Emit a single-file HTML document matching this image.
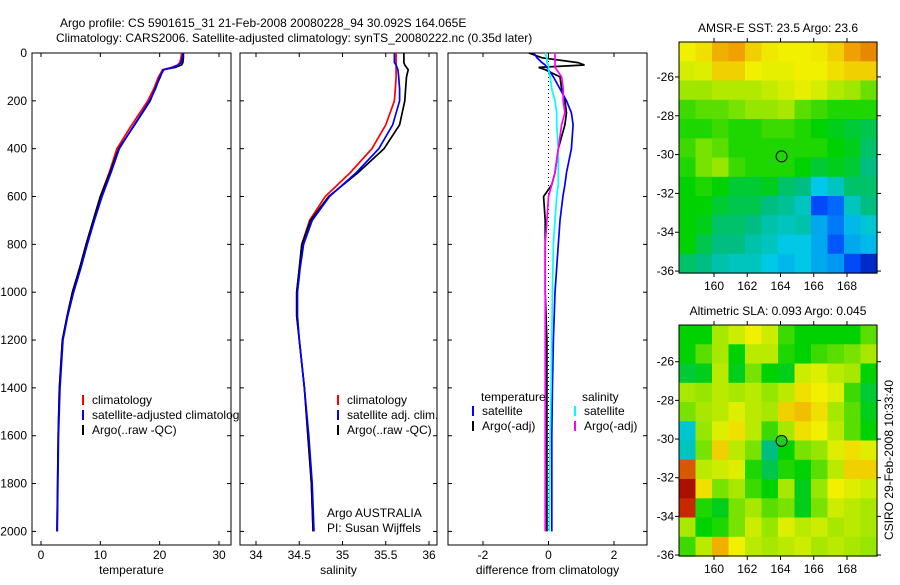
<!DOCTYPE html>
<html><head><meta charset="utf-8"><style>
body{margin:0;background:#fff}
svg{font-family:"Liberation Sans",sans-serif;font-size:12px}
</style></head><body>
<svg id="c" width="900" height="580" xmlns="http://www.w3.org/2000/svg">
<rect width="900" height="580" fill="#fff"/>
<text x="60" y="27">Argo profile: CS 5901615_31 21-Feb-2008 20080228_94 30.092S 164.065E</text>
<text x="56" y="42">Climatology: CARS2006. Satellite-adjusted climatology: synTS_20080222.nc (0.35d later)</text>
<text transform="translate(893,460) rotate(-90)" text-anchor="middle">CSIRO 29-Feb-2008 10:33:40</text>
</svg>
<script>
// ---- data ----
const depths=[0,20,40,50,60,70,100,150,200,300,400,500,600,700,800,900,1000,1100,1200,1400,1600,1800,2000];
const tempClim=[23.7,23.6,23.4,23,22,20.5,19.8,19,18,15.3,12.8,11.5,10,8.8,7.6,6.5,5.3,4.4,3.6,3.1,2.9,2.8,2.7];
const tempSat=[23.9,23.8,23.6,23.2,22.2,20.7,20,19.3,18.3,15.7,13.2,11.8,10.3,9,7.8,6.7,5.5,4.5,3.7,3.2,2.95,2.85,2.75];
const tempArgo=[24,24,23.9,23.7,22.6,20.6,20.1,19.2,18.4,15.8,13.1,11.6,10,8.8,7.6,6.5,5.3,4.4,3.6,3.1,2.9,2.8,2.7];
const salClim=[35.62,35.62,35.62,35.62,35.62,35.62,35.62,35.61,35.6,35.5,35.34,35.09,34.8,34.62,34.53,34.5,34.47,34.47,34.5,34.56,34.6,34.64,34.66];
const salSat=[35.6,35.6,35.6,35.62,35.63,35.64,35.65,35.66,35.66,35.58,35.42,35.16,34.85,34.65,34.55,34.51,34.48,34.48,34.5,34.56,34.61,34.65,34.67];
const salArgo=[35.71,35.71,35.71,35.72,35.74,35.76,35.74,35.73,35.72,35.66,35.48,35.18,34.84,34.63,34.53,34.5,34.47,34.47,34.5,34.56,34.6,34.64,34.66];
const diffDepths=[0,20,40,50,60,70,100,150,200,250,300,400,500,550,600,700,800,1000,1200,1400,1600,1800,2000];
const diffTSat=[-0.45,-0.35,-0.2,-0.1,-0.05,0,0.15,0.35,0.55,0.7,0.75,0.7,0.55,0.5,0.44,0.35,0.3,0.2,0.15,0.12,0.1,0.1,0.1];
const diffTArgo=[-0.6,-0.2,0.9,1.1,-0.3,-0.1,0.35,0.4,0.5,0.55,0.5,0.3,0.2,0.1,-0.15,-0.1,-0.1,-0.1,-0.05,-0.05,-0.05,-0.05,-0.05];
const diffSSat=[-0.1,-0.05,-0.05,0,0,0,0.05,0.1,0.2,0.25,0.25,0.3,0.3,0.3,0.25,0.2,0.15,0.12,0.1,0.08,0.05,0.03,0.02];
const diffSArgo=[0.2,0.2,0.2,0.2,0.2,0.25,0.4,0.45,0.45,0.5,0.4,0.3,0.2,0.1,0,-0.05,-0.1,-0.1,-0.1,-0.1,-0.1,-0.1,-0.1];
const depthTicks=[0,200,400,600,800,1000,1200,1400,1600,1800,2000];
const tempTicks=[0,10,20,30];
const salTicks=[34,34.5,35,35.5,36];
const salTickLabels=["34","34.5","35","35.5","36"];
const diffTicks=[-2,0,2];
const lonTicks=[160,162,164,166,168];
const latTicks=[-26,-28,-30,-32,-34,-36];
const sstGrid=[
[.70,.72,.78,.80,.74,.71,.70,.70,.71,.74,.80,.82],
[.67,.68,.74,.74,.70,.69,.69,.70,.70,.72,.74,.74],
[.61,.61,.63,.63,.63,.65,.67,.69,.67,.63,.61,.57],
[.54,.56,.56,.58,.60,.60,.62,.56,.54,.52,.52,.52],
[.52,.52,.54,.52,.52,.54,.54,.52,.50,.48,.46,.44],
[.54,.58,.56,.52,.52,.52,.52,.52,.52,.50,.48,.42],
[.52,.58,.60,.54,.52,.52,.52,.50,.46,.48,.46,.40],
[.50,.52,.50,.46,.46,.48,.42,.40,.30,.34,.42,.42],
[.50,.50,.46,.44,.44,.40,.38,.34,.14,.18,.34,.40],
[.50,.48,.42,.42,.40,.36,.34,.36,.26,.20,.28,.32],
[.50,.44,.40,.40,.36,.34,.30,.30,.26,.16,.26,.28],
[.42,.40,.36,.34,.34,.30,.28,.30,.26,.24,.14,.08]];
const slaGrid=[
[.50,.50,.62,.66,.70,.66,.54,.50,.50,.50,.50,.56],
[.50,.56,.62,.50,.64,.64,.52,.50,.54,.56,.58,.62],
[.46,.48,.64,.48,.58,.50,.48,.66,.68,.64,.62,.50],
[.62,.60,.64,.62,.64,.60,.64,.72,.70,.68,.54,.46],
[.58,.62,.64,.68,.64,.62,.74,.76,.72,.62,.56,.48],
[.32,.60,.68,.72,.64,.54,.62,.72,.70,.64,.56,.50],
[.34,.58,.74,.64,.58,.40,.50,.58,.60,.68,.72,.68],
[.86,.64,.66,.68,.52,.44,.52,.50,.56,.64,.74,.74],
[.96,.72,.58,.62,.54,.50,.62,.48,.60,.70,.68,.66],
[.90,.52,.48,.58,.62,.56,.58,.48,.58,.66,.64,.62],
[.62,.50,.52,.58,.66,.60,.68,.64,.66,.62,.64,.62],
[.54,.64,.78,.70,.64,.62,.64,.66,.62,.64,.62,.60]];
const argoLon=164.065, argoLat=-30.092;

// ---- drawing ----
const svg=document.getElementById('c');const NS='http://www.w3.org/2000/svg';
function mk(t,a,p){const e=document.createElementNS(NS,t);for(const k in a)e.setAttribute(k,a[k]);(p||svg).appendChild(e);return e;}
const Y0=53,Y1=545;const yD=d=>Y0+d*0.2392;
function lin(d0,d1,p0,p1){return v=>p0+(v-d0)*(p1-p0)/(d1-d0);}
function panel(name,x0,x1,xs,ticks,labels,xlabel,showDepth){
  const g=mk('g',{});
  
  
  const r=mk('rect',{x:x0,y:Y0,width:x1-x0,height:Y1-Y0,fill:'none',stroke:'#000'},g);
  
  
  depthTicks.forEach(d=>{const y=yD(d);
    mk('line',{x1:x0,x2:x0+4,y1:y,y2:y,stroke:'#000'},g);mk('line',{x1:x1-4,x2:x1,y1:y,y2:y,stroke:'#000'},g);
    if(showDepth){const t=mk('text',{x:x0-5,y:y+4,'text-anchor':'end'},g);t.textContent=d;
      
      }});
  ticks.forEach((v,i)=>{const x=xs(v);mk('line',{x1:x,x2:x,y1:Y1,y2:Y1-4,stroke:'#000'},g);mk('line',{x1:x,x2:x,y1:Y0,y2:Y0+4,stroke:'#000'},g);
    const t=mk('text',{x:x,y:Y1+14,'text-anchor':'middle'},g);t.textContent=labels[i];
    
    });
  const t=mk('text',{x:(x0+x1)/2,y:Y1+29,'text-anchor':'middle'},g);t.textContent=xlabel;
  
  
  return g;}
function line(g,xs,vals,dep,col,name,w){const d=vals.map((v,i)=>(i?'L':'M')+xs(v).toFixed(1)+','+yD(dep[i]).toFixed(1)).join('');
  const p=mk('path',{d:d,fill:'none',stroke:col,'stroke-width':w||1.7},g);
  
  }
function legend(g,x,y,col,txt,name){mk('line',{x1:x,x2:x,y1:y-9,y2:y+1,stroke:col,'stroke-width':2},g);
  const t=mk('text',{x:x+9,y:y},g);t.textContent=txt;
  
  }
// panel 1
const xT=lin(0,30,41,219);
const g1=panel('temperature-panel',32,231,xT,tempTicks,tempTicks.map(String),'temperature',true);
const cp1=mk('clipPath',{id:'cp1'});mk('rect',{x:32,y:Y0,width:208,height:Y1-Y0},cp1);
line(g1,xT,tempClim,depths,'#f00','temp-climatology-line');
line(g1,xT,tempArgo,depths,'#000','temp-argo-line');
line(g1,xT,tempSat,depths,'#00f','temp-satellite-line');
const lg1=mk('g',{'clip-path':'url(#cp1)'},g1);
legend(lg1,83,404,'#f00','climatology','legend-climatology');
legend(lg1,83,419,'#00f','satellite-adjusted climatology','legend-satellite');
legend(lg1,83,434,'#000','Argo(..raw -QC)','legend-argo');
// panel 2
const xS=lin(34,36,256,429);
const g2=panel('salinity-panel',240,437,xS,salTicks,salTickLabels,'salinity',false);
line(g2,xS,salClim,depths,'#f00','sal-climatology-line');
line(g2,xS,salArgo,depths,'#000','sal-argo-line');
line(g2,xS,salSat,depths,'#00f','sal-satellite-line');
legend(g2,338,404,'#f00','climatology','legend-climatology');
legend(g2,338,419,'#00f','satellite adj. clim.','legend-satellite');
legend(g2,338,434,'#000','Argo(..raw -QC)','legend-argo');
let t=mk('text',{x:327,y:517},g2);t.textContent='Argo AUSTRALIA';

t=mk('text',{x:327,y:532},g2);t.textContent='PI: Susan Wijffels';

// panel 3
const xDf=lin(-2,2,483,614);
const g3=panel('difference-panel',448,647,xDf,diffTicks,diffTicks.map(String),'difference from climatology',false);
mk('line',{x1:xDf(0),x2:xDf(0),y1:Y0,y2:yD(2000),stroke:'#000','stroke-dasharray':'1,3'},g3);
line(g3,xDf,diffTArgo,diffDepths,'#000','diff-temp-argo-line');
line(g3,xDf,diffTSat,diffDepths,'#00f','diff-temp-satellite-line');
line(g3,xDf,diffSSat,diffDepths,'#0ff','diff-sal-satellite-line');
line(g3,xDf,diffSArgo,diffDepths,'#f0f','diff-sal-argo-line');
t=mk('text',{x:481,y:401},g3);t.textContent='temperature';

t=mk('text',{x:582,y:401},g3);t.textContent='salinity';

legend(g3,473,415,'#00f','satellite','legend-temp-satellite');
legend(g3,473,430,'#000','Argo(-adj)','legend-temp-argo');
legend(g3,575,415,'#0ff','satellite','legend-sal-satellite');
legend(g3,575,430,'#f0f','Argo(-adj)','legend-sal-argo');
// maps
const cStops=[[0,[0,0,140]],[.15,[0,80,255]],[.3,[0,200,230]],[.4,[0,190,130]],[.5,[0,210,0]],[.6,[150,230,0]],[.7,[240,240,0]],[.8,[240,160,0]],[.9,[200,40,0]],[1,[150,0,0]]];
function cmap(v){v=Math.max(0,Math.min(1,v));for(let i=1;i<cStops.length;i++){if(v<=cStops[i][0]){const a=cStops[i-1],b=cStops[i],f=(v-a[0])/(b[0]-a[0]);
  return 'rgb('+a[1].map((c,k)=>Math.round(c+(b[1][k]-c)*f)).join(',')+')';}}return 'rgb(150,0,0)';}
function map(name,grid,x0,x1,y0,y1,latTop,latBot,title,circleFill){
  const g=mk('g',{});
  
  
  const xL=lin(160,168,714,847), yL=lin(latTop,latBot,y0,y1);
  const rows=grid.length,cols=grid[0].length,cw=(x1-x0)/cols,ch=(y1-y0)/rows;
  grid.forEach((row,i)=>row.forEach((v,j)=>{const c=mk('rect',{x:(x0+j*cw).toFixed(1),y:(y0+i*ch).toFixed(1),width:(cw+0.6).toFixed(1),height:(ch+0.6).toFixed(1),fill:cmap(v)},g);
    
    }));
  mk('rect',{x:x0,y:y0,width:x1-x0,height:y1-y0,fill:'none',stroke:'#000'},g);
  lonTicks.forEach(v=>{const x=xL(v);mk('line',{x1:x,x2:x,y1:y1,y2:y1+4,stroke:'#000'},g);mk('line',{x1:x,x2:x,y1:y0,y2:y0-4,stroke:'#000'},g);
    const tt=mk('text',{x:x,y:y1+17,'text-anchor':'middle'},g);tt.textContent=v;
    });
  latTicks.forEach(v=>{const y=yL(v);mk('line',{x1:x0-4,x2:x0,y1:y,y2:y,stroke:'#000'},g);mk('line',{x1:x1,x2:x1+4,y1:y,y2:y,stroke:'#000'},g);
    const tt=mk('text',{x:x0-5,y:y+4,'text-anchor':'end'},g);tt.textContent=v;
    });
  const c=mk('circle',{cx:xL(argoLon),cy:yL(argoLat),r:5.5,fill:circleFill,stroke:'#000'},g);
  
  const tt=mk('text',{x:(x0+x1)/2,y:y0-10,'text-anchor':'middle'},g);tt.textContent=title;
  }
map('sst-map',sstGrid,679,877,42,273,-24.2,-36.1,'AMSR-E SST: 23.5 Argo: 23.6','none');
map('sla-map',slaGrid,679,877,325,556,-24.1,-36.05,'Altimetric SLA: 0.093 Argo: 0.045','#2c2');
</script>
</body></html>
